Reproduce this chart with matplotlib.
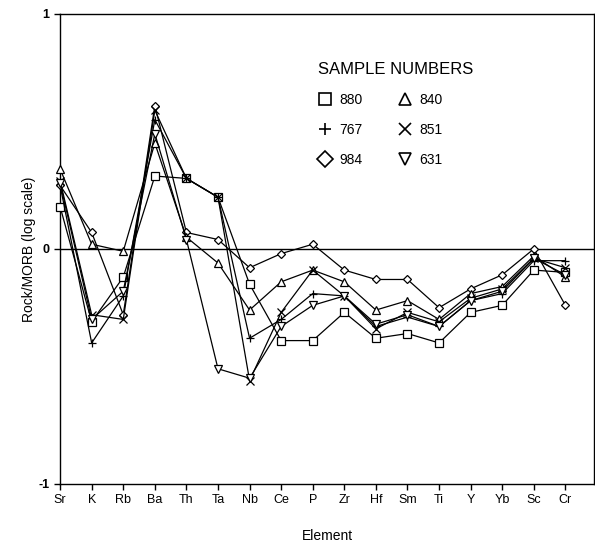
"""Spider diagram: rock/MORB ratios for six samples (log scale)."""

import matplotlib
matplotlib.use("Agg")
import matplotlib.pyplot as plt

elements = ["Sr", "K", "Rb", "Ba", "Th", "Ta", "Nb", "Ce", "P", "Zr",
            "Hf", "Sm", "Ti", "Y", "Yb", "Sc", "Cr"]

s880 = [0.18, -0.31, -0.12, 0.31, 0.30, 0.22, -0.15, -0.39, -0.39, -0.27,
        -0.38, -0.36, -0.40, -0.27, -0.24, -0.09, -0.10]
s767 = [0.27, -0.40, -0.20, 0.55, 0.30, 0.22, -0.38, -0.30, -0.19, -0.20,
        -0.33, -0.29, -0.33, -0.22, -0.19, -0.05, -0.05]
s984 = [0.27, 0.07, -0.28, 0.61, 0.07, 0.04, -0.08, -0.02, 0.02, -0.09,
        -0.13, -0.13, -0.25, -0.17, -0.11, 0.00, -0.24]
s840 = [0.34, 0.02, -0.01, 0.45, 0.05, -0.06, -0.26, -0.14, -0.09, -0.14,
        -0.26, -0.22, -0.30, -0.19, -0.16, -0.03, -0.12]
s851 = [0.29, -0.28, -0.30, 0.59, 0.30, 0.22, -0.56, -0.27, -0.09, -0.20,
        -0.34, -0.27, -0.31, -0.21, -0.17, -0.04, -0.08]
s631 = [0.28, -0.30, -0.18, 0.49, 0.04, -0.51, -0.55, -0.33, -0.24, -0.20,
        -0.32, -0.28, -0.33, -0.22, -0.18, -0.04, -0.11]

# order gives column-major legend: 880/767/984 then 840/851/631
samples = [("880", s880, "s"), ("767", s767, "+"), ("984", s984, "D"),
           ("840", s840, "^"), ("851", s851, "x"), ("631", s631, "v")]

plt.rcParams["font.family"] = ["Liberation Sans", "DejaVu Sans"]

fig = plt.figure(figsize=(5.95, 5.46), dpi=100)
ax = fig.add_axes([0.101, 0.1136, 0.897, 0.861])

x = list(range(len(elements)))
ax.axhline(0, color="black", lw=1.0, zorder=1)
for name, vals, mk in samples:
    ms = 4.5 if mk == "D" else 5.5
    ax.plot(x, vals, color="black", lw=0.9, marker=mk, ms=ms,
            mfc="white", mec="black", mew=0.9, label=name, zorder=3,
            clip_on=False)

ax.set_xlim(0, 16.9)
ax.set_ylim(-1, 1)
ax.set_xticks(x)
ax.set_xticklabels(elements, fontsize=9)
ax.set_yticks([-1, 0, 1])
ax.set_yticklabels(["-1", "0", "1"], fontsize=9, fontweight="bold")
ax.tick_params(axis="both", direction="out", length=4, width=1)
for sp in ax.spines.values():
    sp.set_linewidth(1.0)

ax.set_xlabel("Element", fontsize=10, labelpad=16)
ax.set_ylabel("Rock/MORB (log scale)", fontsize=10, labelpad=2)

leg = ax.legend(ncol=2, frameon=False, title="SAMPLE NUMBERS",
                loc="upper left", bbox_to_anchor=(0.46, 0.925),
                fontsize=10, title_fontsize=12, handlelength=1.0,
                handletextpad=0.5, columnspacing=2.6, labelspacing=1.15,
                numpoints=1, markerscale=1.7)
for h in leg.legend_handles:
    h.set_linestyle("none")
    h.set_markeredgewidth(1.2)
leg._legend_box.align = "left"

fig.savefig("out.png", dpi=100)
